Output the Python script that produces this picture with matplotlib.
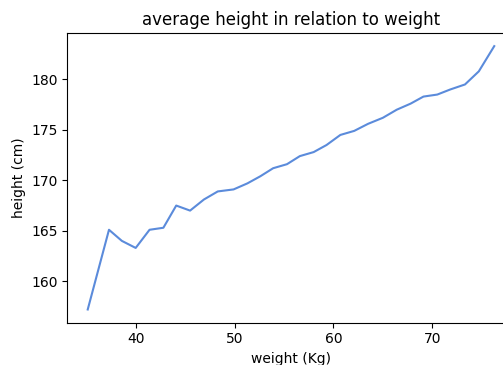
import matplotlib
matplotlib.use("Agg")
import matplotlib.pyplot as plt

weight = [35.15, 37.3, 38.6, 40.0, 41.4, 42.8, 44.1, 45.5, 46.9, 48.3, 49.9,
          51.3, 52.6, 53.9, 55.3, 56.6, 58.0, 59.3, 60.7, 62.1, 63.5, 65.0,
          66.4, 67.8, 69.1, 70.5, 71.8, 73.3, 74.7, 76.26]
height = [157.2, 165.1, 164.0, 163.3, 165.1, 165.3, 167.5, 167.0, 168.1, 168.9,
          169.1, 169.7, 170.4, 171.2, 171.6, 172.4, 172.8, 173.5, 174.5, 174.9,
          175.6, 176.2, 177.0, 177.6, 178.3, 178.5, 179.0, 179.5, 180.8, 183.3]

fig = plt.figure(figsize=(5.03, 3.65), dpi=100)
ax = fig.add_axes([0.134, 0.116, 0.889, 0.7937])
ax.plot(weight, height, color="#5b8bdb", linewidth=1.5)
ax.set_title("average height in relation to weight")
ax.set_xlabel("weight (Kg)")
ax.set_ylabel("height (cm)")
fig.savefig("out.png", dpi=100)
